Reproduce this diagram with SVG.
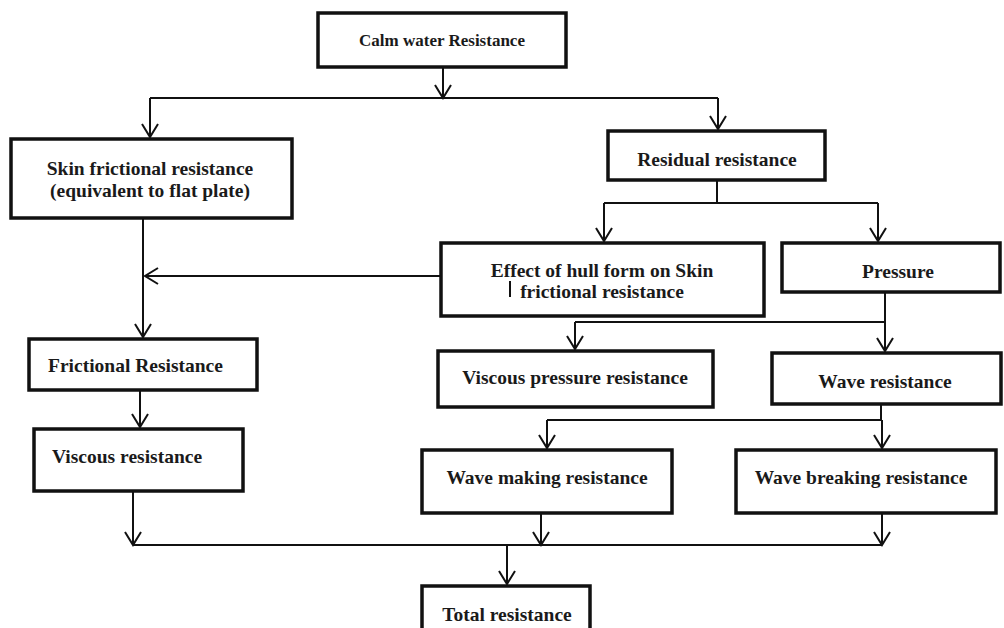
<svg xmlns="http://www.w3.org/2000/svg" width="1004" height="628" viewBox="0 0 1004 628">
<style>
.box{fill:#fff;stroke:#111;stroke-width:3.5}
.t{font-family:"Liberation Serif","Times New Roman",serif;font-weight:bold;font-size:19.5px;fill:#1a1a1a}
.c{text-anchor:middle}
.ln{fill:none;stroke:#111;stroke-width:2}
.ar{fill:none;stroke:#111;stroke-width:2;marker-end:url(#ah)}
</style>
<defs>
<marker id="ah" markerUnits="userSpaceOnUse" markerWidth="20" markerHeight="20" refX="15" refY="9" orient="auto">
<path d="M2,1 L15,9 L2,17" fill="none" stroke="#111" stroke-width="2"/>
</marker>
</defs>
<rect width="1004" height="628" fill="#fff"/>
<g id="connectors">
<path class="ar" d="M443,67 V98"/>
<path class="ln" d="M150,98 H718"/>
<path class="ar" d="M150,98 V137"/>
<path class="ar" d="M718,98 V129"/>
<path class="ln" d="M717,180 V203"/>
<path class="ln" d="M604,203 H878"/>
<path class="ar" d="M604,203 V241"/>
<path class="ar" d="M878,203 V241"/>
<path class="ar" d="M143,218 V337"/>
<path class="ar" d="M441,276 H145"/>
<path class="ar" d="M885,292 V351"/>
<path class="ln" d="M885,322 H575"/>
<path class="ar" d="M575,322 V349"/>
<path class="ar" d="M140,390 V427"/>
<path class="ln" d="M881,404 V420"/>
<path class="ln" d="M547,420 H882"/>
<path class="ar" d="M547,420 V448"/>
<path class="ar" d="M882,420 V448"/>
<path class="ar" d="M133,491 V545"/>
<path class="ar" d="M541,513 V545"/>
<path class="ar" d="M882,513 V545"/>
<path class="ln" d="M133,545 H882"/>
<path class="ar" d="M507,545 V584"/>
</g>
<g id="calm">
<rect class="box" x="318" y="13" width="248" height="54"/>
<text class="t c" x="442" y="46" style="font-size:17px">Calm water Resistance</text>
</g>
<g id="skin">
<rect class="box" x="11" y="139" width="281" height="79"/>
<text class="t c" x="150" y="175">Skin frictional resistance</text>
<text class="t c" x="150" y="197">(equivalent to flat plate)</text>
</g>
<g id="residual">
<rect class="box" x="608" y="131" width="217" height="49"/>
<text class="t c" x="717" y="166">Residual resistance</text>
</g>
<g id="effect">
<rect class="box" x="441" y="243" width="323" height="73"/>
<text class="t c" x="602" y="277">Effect of hull form on Skin</text>
<text class="t c" x="602" y="298">frictional resistance</text>
<line x1="510" y1="281" x2="510" y2="297" stroke="#111" stroke-width="2"/>
</g>
<g id="pressure">
<rect class="box" x="782" y="243" width="218" height="49"/>
<text class="t c" x="898" y="278">Pressure</text>
</g>
<g id="frictional">
<rect class="box" x="29" y="339" width="228" height="51"/>
<text class="t" x="48" y="372">Frictional Resistance</text>
</g>
<g id="viscous-pressure">
<rect class="box" x="438" y="351" width="275" height="56"/>
<text class="t c" x="575" y="384">Viscous pressure resistance</text>
</g>
<g id="wave">
<rect class="box" x="772" y="353" width="229" height="51"/>
<text class="t c" x="885" y="388">Wave resistance</text>
</g>
<g id="viscous">
<rect class="box" x="34" y="429" width="209" height="62"/>
<text class="t" x="52" y="463">Viscous resistance</text>
</g>
<g id="wave-making">
<rect class="box" x="422" y="450" width="250" height="63"/>
<text class="t c" x="547" y="484">Wave making resistance</text>
</g>
<g id="wave-breaking">
<rect class="box" x="736" y="450" width="260" height="63"/>
<text class="t c" x="861" y="484">Wave breaking resistance</text>
</g>
<g id="total">
<rect class="box" x="422" y="586" width="168" height="50"/>
<text class="t c" x="507" y="621">Total resistance</text>
</g>
</svg>
